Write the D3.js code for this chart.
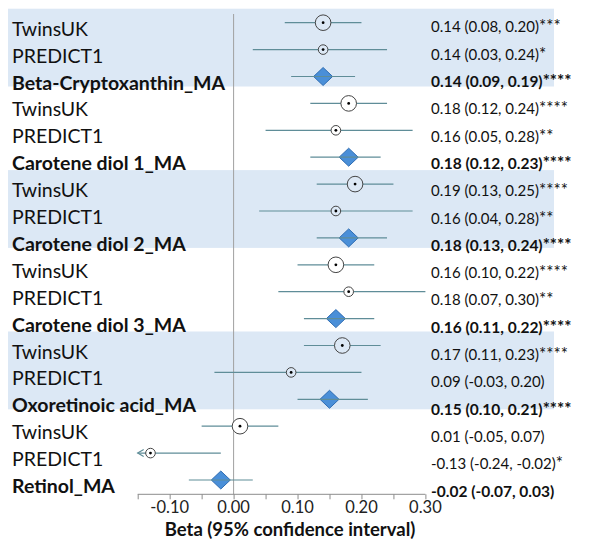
<!DOCTYPE html>
<html>
<head>
<meta charset="utf-8">
<script src="https://cdn.jsdelivr.net/npm/d3@7"></script>
<style>
  body { margin: 0; background: #fff; }
  svg { display: block; font-family: Lato, "Noto Sans", sans-serif; }
</style>
</head>
<body>
<svg id="chart"></svg>
<script>
// rows, top to bottom
const labels = [
  "TwinsUK", "PREDICT1", "Beta-Cryptoxanthin_MA",
  "TwinsUK", "PREDICT1", "Carotene diol 1_MA",
  "TwinsUK", "PREDICT1", "Carotene diol 2_MA",
  "TwinsUK", "PREDICT1", "Carotene diol 3_MA",
  "TwinsUK", "PREDICT1", "Oxoretinoic acid_MA",
  "TwinsUK", "PREDICT1", "Retinol_MA"
];
const beta  = [0.14, 0.14, 0.14, 0.18, 0.16, 0.18, 0.19, 0.16, 0.18, 0.16, 0.18, 0.16, 0.17, 0.09, 0.15, 0.01, -0.13, -0.02];
const lower = [0.08, 0.03, 0.09, 0.12, 0.05, 0.12, 0.13, 0.04, 0.13, 0.10, 0.07, 0.11, 0.11, -0.03, 0.10, -0.05, -0.24, -0.07];
const upper = [0.20, 0.24, 0.19, 0.24, 0.28, 0.23, 0.25, 0.28, 0.24, 0.22, 0.30, 0.22, 0.23, 0.20, 0.21, 0.07, -0.02, 0.03];
const stars = ["***", "*", "****", "****", "**", "****", "****", "**", "****", "****", "**", "****", "****", "", "****", "", "*", ""];
const shadedGroups = [0, 2, 4];
const xTicks = [-0.10, 0.00, 0.10, 0.20, 0.30];

const width = 603, height = 539;
const xMin = -0.15, xMax = 0.30;
const bandColor = "#dce8f5";
const lineColor = "#5f8d98";

const svg = d3.select("#chart").attr("width", width).attr("height", height);

const rows = labels.map((label, i) => ({
  i, label, beta: beta[i], lo: lower[i], hi: upper[i], stars: stars[i],
  pooled: label.endsWith("_MA"),
  group: Math.floor(i / 3)
}));

const x = d3.scaleLinear().domain([xMin, xMax]).range([137.7, 425.4]);
const y = d3.scalePoint().domain(d3.range(rows.length)).range([22.7, 480]);
// the value column on the right sits on a slightly wider spacing
const yText = d3.scalePoint().domain(d3.range(rows.length)).range([32.3, 496.7]);

// shaded groups
svg.append("g")
  .selectAll("rect")
  .data(shadedGroups)
  .join("rect")
  .attr("x", 8)
  .attr("width", 546)
  .attr("y", (g) => y(g * 3) - 14)
  .attr("height", (g) => y(g * 3 + 2) - y(g * 3) + 24)
  .attr("fill", bandColor);

// zero line
svg.append("line")
  .attr("x1", x(0)).attr("x2", x(0))
  .attr("y1", 14).attr("y2", 494.3)
  .attr("stroke", "#a0a0a0")
  .attr("stroke-width", 1);

// x axis
const axis = svg.append("g")
  .attr("transform", "translate(0,494.3)")
  .call(
    d3.axisBottom(x)
      .tickValues(d3.range(0, 10).map((k) => xMin + k * 0.05))
      .tickSize(5)
      .tickFormat("")
  );
axis.select(".domain").attr("stroke", "#8c8c8c").attr("d", `M${x(xMin)},0H${x(xMax)}`);
axis.selectAll(".tick line").attr("stroke", "#8c8c8c");

svg.append("g")
  .selectAll("text")
  .data(xTicks)
  .join("text")
  .attr("x", (d) => x(d))
  .attr("y", 512.5)
  .attr("text-anchor", "middle")
  .style("font-size", "16.5px")
  .style("fill", "#222")
  .text((d) => d3.format(".2f")(d).replace("−", "-"));

svg.append("text")
  .attr("x", 290)
  .attr("y", 536)
  .attr("text-anchor", "middle")
  .style("font-size", "18.5px")
  .style("font-weight", "bold")
  .style("fill", "#111")
  .text("Beta (95% confidence interval)");

// left labels
svg.append("g")
  .selectAll("text")
  .data(rows)
  .join("text")
  .attr("x", 12)
  .attr("y", (d) => y(d.i) + 13)
  .style("font-size", "19.5px")
  .style("font-weight", (d) => (d.pooled ? "bold" : "normal"))
  .style("fill", "#111")
  .text((d) => d.label);

// right value column
const fmt = d3.format(".2f");
const f = (v) => fmt(v).replace("−", "-");
svg.append("g")
  .selectAll("text")
  .data(rows)
  .join("text")
  .attr("x", 431)
  .attr("y", (d) => yText(d.i))
  .style("font-size", (d) => (d.pooled ? "15.5px" : "15px"))
  .style("font-weight", (d) => (d.pooled ? "bold" : "normal"))
  .style("fill", "#111")
  .text((d) => `${f(d.beta)} (${f(d.lo)}, ${f(d.hi)})`)
  .append("tspan")
  .style("font-size", "17px")
  .text((d) => d.stars);

// markers
const marks = svg.append("g").selectAll("g").data(rows).join("g");

// pooled diamonds go under their CI line
marks.filter((d) => d.pooled)
  .append("path")
  .attr("d", (d) => {
    const cx = x(d.beta), cy = y(d.i);
    return `M${cx - 9.5},${cy}L${cx},${cy - 9}L${cx + 9.5},${cy}L${cx},${cy + 9}Z`;
  })
  .attr("fill", "#4a8fd8")
  .attr("stroke", "#2f6db3")
  .attr("stroke-width", 1);

marks.append("line")
  .attr("x1", (d) => x(Math.max(d.lo, xMin)))
  .attr("x2", (d) => x(Math.min(d.hi, xMax)))
  .attr("y1", (d) => y(d.i))
  .attr("y2", (d) => y(d.i))
  .attr("stroke", lineColor)
  .attr("stroke-width", 1.2);

// arrow where the interval runs past the axis
marks.filter((d) => d.lo < xMin)
  .append("path")
  .attr("d", (d) => {
    const ax = x(xMin), cy = y(d.i);
    return `M${ax + 6},${cy - 3.5}L${ax},${cy}L${ax + 6},${cy + 3.5}`;
  })
  .attr("fill", "none")
  .attr("stroke", lineColor)
  .attr("stroke-width", 1.2);

const studies = marks.filter((d) => !d.pooled);
studies.append("circle")
  .attr("cx", (d) => x(d.beta))
  .attr("cy", (d) => y(d.i))
  .attr("r", (d) => (d.label === "TwinsUK" ? 7.8 : 4.8))
  .attr("fill", (d) => (shadedGroups.includes(d.group) ? bandColor : "#fff"))
  .attr("stroke", "#444")
  .attr("stroke-width", 1);
studies.append("circle")
  .attr("cx", (d) => x(d.beta))
  .attr("cy", (d) => y(d.i))
  .attr("r", 1.4)
  .attr("fill", "#000");
</script>
</body>
</html>
